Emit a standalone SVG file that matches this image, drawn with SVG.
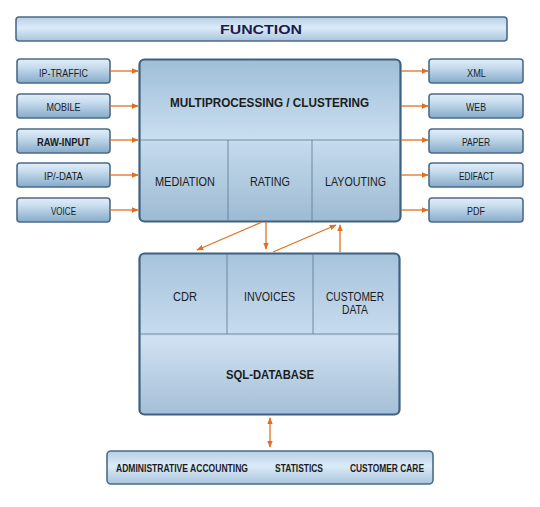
<svg xmlns="http://www.w3.org/2000/svg" width="540" height="507" viewBox="0 0 540 507">
<defs>
<linearGradient id="gSmall" x1="0" y1="0" x2="0" y2="1">
<stop offset="0" stop-color="#e4eef7"/>
<stop offset="0.35" stop-color="#c6dcee"/>
<stop offset="1" stop-color="#86aac8"/>
</linearGradient>
<linearGradient id="gBar" x1="0" y1="0" x2="0" y2="1">
<stop offset="0" stop-color="#b6cfe4"/>
<stop offset="0.45" stop-color="#dcebf8"/>
<stop offset="1" stop-color="#a8c4dc"/>
</linearGradient>
<linearGradient id="gMain" x1="0" y1="0" x2="0" y2="1">
<stop offset="0" stop-color="#9fbed8"/>
<stop offset="0.5" stop-color="#cadff0"/>
<stop offset="0.52" stop-color="#c4daec"/>
<stop offset="1" stop-color="#9dbad2"/>
</linearGradient>
<linearGradient id="gDb" x1="0" y1="0" x2="0" y2="1">
<stop offset="0" stop-color="#a7c3dc"/>
<stop offset="0.5" stop-color="#c6dbee"/>
<stop offset="0.52" stop-color="#d0e2f2"/>
<stop offset="1" stop-color="#a4bfd6"/>
</linearGradient>
<marker id="ah" viewBox="0 0 10 10" refX="9" refY="5" markerWidth="7" markerHeight="7" orient="auto-start-reverse" markerUnits="userSpaceOnUse">
<path d="M0,1 L10,5 L0,9 z" fill="#e07020"/>
</marker>
</defs>
<style>
.box{fill:url(#gSmall);stroke:#4b6b89;stroke-width:1.6}
.bar{fill:url(#gBar);stroke:#4b6b89;stroke-width:1.6}
.big{stroke:#3f6080;stroke-width:2.2}
.div{stroke:#5a7690;stroke-width:0.8;fill:none}
.t{font-family:"Liberation Sans",Arial,sans-serif;fill:#1c1c1c;text-anchor:middle}
.s{font-size:11.5px}
.m{font-size:13px}
.b{font-weight:bold}
.c{stroke:#e07020;stroke-width:1.3;fill:none}
</style>
<rect width="540" height="507" fill="#ffffff"/>

<g id="function">
<rect class="bar" x="16" y="17" width="491" height="24" rx="3"/>
<text x="261" y="34.3" font-family="Liberation Sans,Arial,sans-serif" font-size="13.5" font-weight="bold" fill="#1b1b4d" text-anchor="middle" textLength="82" lengthAdjust="spacingAndGlyphs">FUNCTION</text>
</g>

<g id="ip-traffic"><rect class="box" x="17" y="59" width="93" height="24" rx="3"/><text class="t s" x="63.5" y="76.5" textLength="49" lengthAdjust="spacingAndGlyphs">IP-TRAFFIC</text></g>
<g id="mobile"><rect class="box" x="17" y="94" width="93" height="24" rx="3"/><text class="t s" x="63.5" y="111" textLength="34" lengthAdjust="spacingAndGlyphs">MOBILE</text></g>
<g id="raw-input"><rect class="box" x="17" y="129" width="93" height="24" rx="3"/><text class="t s b" x="63.5" y="146" textLength="53" lengthAdjust="spacingAndGlyphs">RAW-INPUT</text></g>
<g id="ip-data"><rect class="box" x="17" y="163" width="93" height="24" rx="3"/><text class="t s" x="63.5" y="180" textLength="39" lengthAdjust="spacingAndGlyphs">IP/-DATA</text></g>
<g id="voice"><rect class="box" x="17" y="198" width="93" height="24" rx="3"/><text class="t s" x="63.5" y="215" textLength="25" lengthAdjust="spacingAndGlyphs">VOICE</text></g>

<g id="xml"><rect class="box" x="429" y="59" width="94" height="24" rx="3"/><text class="t s" x="476.5" y="76.5" textLength="19" lengthAdjust="spacingAndGlyphs">XML</text></g>
<g id="web"><rect class="box" x="429" y="94" width="94" height="24" rx="3"/><text class="t s" x="476" y="111" textLength="20" lengthAdjust="spacingAndGlyphs">WEB</text></g>
<g id="paper"><rect class="box" x="429" y="129" width="94" height="24" rx="3"/><text class="t s" x="476" y="146" textLength="28" lengthAdjust="spacingAndGlyphs">PAPER</text></g>
<g id="edifact"><rect class="box" x="429" y="163" width="94" height="24" rx="3"/><text class="t s" x="476.5" y="180" textLength="35" lengthAdjust="spacingAndGlyphs">EDIFACT</text></g>
<g id="pdf"><rect class="box" x="429" y="198" width="94" height="24" rx="3"/><text class="t s" x="476" y="215" textLength="18" lengthAdjust="spacingAndGlyphs">PDF</text></g>

<g id="processing">
<rect class="big" x="139.5" y="59.5" width="261" height="162" rx="5" fill="url(#gMain)"/>
<line class="div" x1="140.5" y1="140" x2="399.5" y2="140"/>
<line class="div" x1="228" y1="140" x2="228" y2="220.5"/>
<line class="div" x1="312" y1="140" x2="312" y2="220.5"/>
<text class="t b" font-size="13" x="269.5" y="106.5" textLength="199" lengthAdjust="spacingAndGlyphs">MULTIPROCESSING / CLUSTERING</text>
<text class="t m" x="185" y="185.5" textLength="60" lengthAdjust="spacingAndGlyphs">MEDIATION</text>
<text class="t m" x="270" y="185.5" textLength="40" lengthAdjust="spacingAndGlyphs">RATING</text>
<text class="t m" x="355.5" y="185.5" textLength="61" lengthAdjust="spacingAndGlyphs">LAYOUTING</text>
</g>

<g id="database">
<rect class="big" x="139.5" y="253.5" width="260" height="161" rx="5" fill="url(#gDb)"/>
<line class="div" x1="140.5" y1="334" x2="398.5" y2="334"/>
<line class="div" x1="227" y1="254.5" x2="227" y2="334"/>
<line class="div" x1="313" y1="254.5" x2="313" y2="334"/>
<text class="t m" x="185" y="301" textLength="24" lengthAdjust="spacingAndGlyphs">CDR</text>
<text class="t m" x="269.5" y="301" textLength="51" lengthAdjust="spacingAndGlyphs">INVOICES</text>
<text class="t m" x="355" y="300.5" textLength="58" lengthAdjust="spacingAndGlyphs">CUSTOMER</text>
<text class="t m" x="355" y="314.3" textLength="26" lengthAdjust="spacingAndGlyphs">DATA</text>
<text class="t b" font-size="13" x="270" y="379" textLength="88" lengthAdjust="spacingAndGlyphs">SQL-DATABASE</text>
</g>

<g id="apps">
<rect class="bar" x="107" y="451" width="326" height="33" rx="4"/>
<text class="t b" font-size="10.5" x="182" y="472" textLength="132" lengthAdjust="spacingAndGlyphs">ADMINISTRATIVE  ACCOUNTING</text>
<text class="t b" font-size="10.5" x="299" y="472" textLength="48" lengthAdjust="spacingAndGlyphs">STATISTICS</text>
<text class="t b" font-size="10.5" x="387" y="472" textLength="74" lengthAdjust="spacingAndGlyphs">CUSTOMER  CARE</text>
</g>

<g id="connectors">
<line class="c" x1="110" y1="71" x2="138" y2="71" marker-end="url(#ah)"/>
<line class="c" x1="110" y1="106" x2="138" y2="106" marker-end="url(#ah)"/>
<line class="c" x1="110" y1="140" x2="138" y2="140" marker-end="url(#ah)"/>
<line class="c" x1="110" y1="175" x2="138" y2="175" marker-end="url(#ah)"/>
<line class="c" x1="110" y1="210" x2="138" y2="210" marker-end="url(#ah)"/>
<line class="c" x1="401" y1="71" x2="428" y2="71" marker-end="url(#ah)"/>
<line class="c" x1="401" y1="106" x2="428" y2="106" marker-end="url(#ah)"/>
<line class="c" x1="401" y1="140" x2="428" y2="140" marker-end="url(#ah)"/>
<line class="c" x1="401" y1="175" x2="428" y2="175" marker-end="url(#ah)"/>
<line class="c" x1="401" y1="210" x2="428" y2="210" marker-end="url(#ah)"/>
<line class="c" x1="262" y1="222" x2="197" y2="250" marker-end="url(#ah)"/>
<line class="c" x1="266" y1="222" x2="266" y2="249" marker-end="url(#ah)"/>
<line class="c" x1="273" y1="252" x2="336" y2="225" marker-end="url(#ah)"/>
<line class="c" x1="340" y1="252" x2="340" y2="225" marker-end="url(#ah)"/>
<line class="c" x1="270" y1="418" x2="270" y2="447" marker-start="url(#ah)" marker-end="url(#ah)"/>
</g>
</svg>
